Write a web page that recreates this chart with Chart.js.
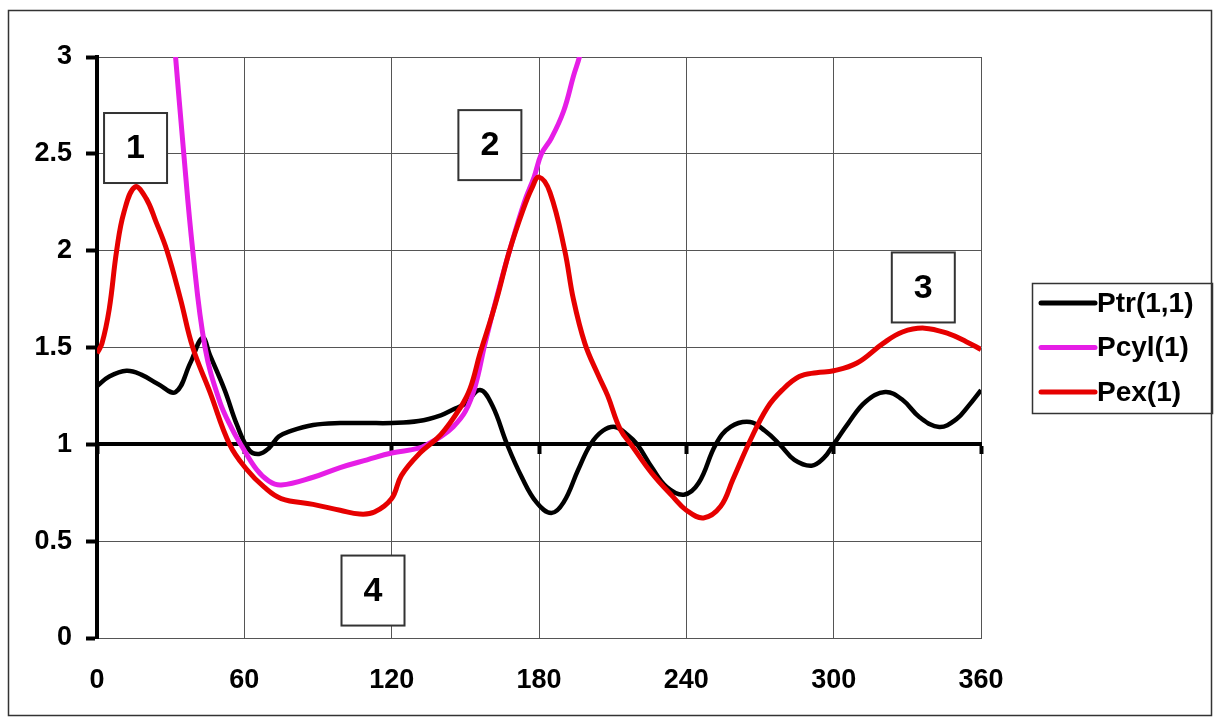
<!DOCTYPE html>
<html>
<head>
<meta charset="utf-8">
<script src="https://cdn.jsdelivr.net/npm/chart.js@4/dist/chart.umd.min.js"></script>
<style>
  html, body { margin: 0; padding: 0; background: #fff; }
  #wrap { width: 1214px; height: 723px; }
</style>
</head>
<body>
<div id="wrap"><canvas id="myChart" width="1214" height="723"></canvas></div>
<script>
// crank angle (deg) / value pairs
let ptrAngle = [0, 5, 12, 18, 25, 32, 38, 43, 46, 52, 57, 62, 66, 70, 74, 79, 88, 99, 110, 120, 131, 140, 145, 150, 156, 161, 167, 173, 179, 185, 190, 196, 201, 206, 211, 216, 220, 226, 232, 239, 245, 252, 258, 266, 272, 278, 284, 291, 296, 300, 306, 313, 321, 328, 335, 343, 350, 355, 360]
let ptrValue = [1.30, 1.35, 1.38, 1.36, 1.31, 1.27, 1.42, 1.55, 1.46, 1.28, 1.10, 0.97, 0.95, 0.98, 1.04, 1.07, 1.10, 1.11, 1.11, 1.11, 1.12, 1.15, 1.18, 1.21, 1.28, 1.20, 1.00, 0.83, 0.70, 0.645, 0.70, 0.87, 1.00, 1.07, 1.09, 1.05, 1.00, 0.88, 0.78, 0.74, 0.80, 1.00, 1.09, 1.115, 1.07, 1.00, 0.92, 0.89, 0.93, 1.00, 1.11, 1.22, 1.27, 1.23, 1.14, 1.09, 1.13, 1.20, 1.28]

let pcylAngle = [25, 29, 32, 35, 39, 44, 50, 55, 59, 65, 70, 75, 88, 99, 110, 120, 131, 136, 140, 145, 150, 154, 158, 163, 168, 174, 178, 181, 185, 190, 194, 197, 200]
let pcylValue = [4.2, 3.45, 3.0, 2.55, 2.0, 1.5, 1.22, 1.08, 0.99, 0.87, 0.81, 0.79, 0.83, 0.88, 0.92, 0.955, 0.98, 1.01, 1.04, 1.09, 1.17, 1.30, 1.52, 1.77, 2.0, 2.25, 2.38, 2.5, 2.58, 2.72, 2.9, 3.03, 3.3]

let pexAngle = [0, 2, 5, 8, 11, 15.5, 20, 24, 28.5, 34, 39, 46, 54, 61, 68, 75, 88, 99, 107, 113, 120, 124, 131.5, 140, 148, 152, 156, 160, 163, 168, 173.5, 177, 180, 184.5, 190.5, 194, 198.7, 204, 208, 213, 218, 226, 234.5, 240, 247, 254, 259, 266, 273, 279, 286, 293, 300, 309.5, 320, 328, 337, 347, 354, 360]
let pexValue = [1.47, 1.52, 1.70, 2.0, 2.2, 2.33, 2.27, 2.15, 2.0, 1.75, 1.5, 1.27, 1.0, 0.87, 0.78, 0.72, 0.69, 0.66, 0.64, 0.65, 0.72, 0.84, 0.955, 1.05, 1.19, 1.29, 1.47, 1.63, 1.76, 2.0, 2.21, 2.32, 2.38, 2.3, 2.0, 1.75, 1.52, 1.36, 1.25, 1.08, 0.99, 0.85, 0.73, 0.66, 0.62, 0.68, 0.82, 1.02, 1.19, 1.28, 1.35, 1.37, 1.38, 1.42, 1.52, 1.58, 1.60, 1.57, 1.53, 1.49]

let seriesNames = ['Ptr(1,1)', 'Pcyl(1)', 'Pex(1)']
let seriesColors = ['#000000', '#e61ee6', '#e60000']

// numbered boxes, placed in data coordinates
let markLabels = ['1', '2', '3', '4']
let markAngle = [15.7, 160, 336.5, 112.4]
let markValue = [2.53, 2.545, 1.81, 0.245]

let toPoints = (xs, ys) => xs.map((x, i) => ({ x: x, y: ys[i] }))
let tickFont = { family: '"Liberation Sans", Arial, sans-serif', size: 27, weight: 'bold' }

let extras = {
    id: 'extras',
    afterDraw(chart) {
        let c = chart.ctx
        let xs = chart.scales.x, ys = chart.scales.y
        c.save()
        // outer frame
        c.strokeStyle = '#333'
        c.lineWidth = 1.5
        c.strokeRect(8.5, 10.5, 1203, 705)

        // number boxes
        c.font = 'bold 34px "Liberation Sans", Arial, sans-serif'
        c.textAlign = 'center'
        c.textBaseline = 'middle'
        markLabels.forEach((t, i) => {
            let px = xs.getPixelForValue(markAngle[i])
            let py = ys.getPixelForValue(markValue[i])
            c.fillStyle = '#fff'
            c.fillRect(px - 31.5, py - 35, 63, 70)
            c.strokeStyle = '#333'
            c.lineWidth = 2
            c.strokeRect(px - 31.5, py - 35, 63, 70)
            c.fillStyle = '#000'
            c.fillText(t, px, py + 1)
        })

        // legend
        c.strokeStyle = '#333'
        c.lineWidth = 1.5
        c.strokeRect(1032.5, 283.5, 180, 130)
        c.textAlign = 'left'
        c.font = 'bold 28px "Liberation Sans", Arial, sans-serif'
        seriesNames.forEach((n, i) => {
            let y = 303 + i * 44.5
            c.strokeStyle = seriesColors[i]
            c.lineWidth = 5
            c.lineCap = 'round'
            c.beginPath()
            c.moveTo(1041, y)
            c.lineTo(1095, y)
            c.stroke()
            c.fillStyle = '#000'
            c.fillText(n, 1097, y + 1)
        })
        c.restore()
    }
}

let ctx = document.getElementById('myChart').getContext('2d')

let myChart = new Chart(ctx, {
    type: 'line',
    data: {
        datasets: [{
            label: seriesNames[0],
            data: toPoints(ptrAngle, ptrValue),
            borderColor: seriesColors[0],
            borderWidth: 4.5,
            order: 3
        }, {
            label: seriesNames[1],
            data: toPoints(pcylAngle, pcylValue),
            borderColor: seriesColors[1],
            borderWidth: 5,
            order: 2
        }, {
            label: seriesNames[2],
            data: toPoints(pexAngle, pexValue),
            borderColor: seriesColors[2],
            borderWidth: 5,
            order: 1
        }]
    },
    options: {
        responsive: false,
        animation: false,
        layout: {
            padding: { top: 57, right: 233, left: 0, bottom: 0 }
        },
        elements: {
            point: { radius: 0 },
            line: { tension: 0.4, fill: false }
        },
        plugins: {
            legend: { display: false },
            tooltip: { enabled: false }
        },
        scales: {
            x: {
                type: 'linear',
                min: 0,
                max: 360,
                ticks: { stepSize: 60, color: '#000', font: tickFont, padding: 26 },
                grid: { color: '#555', lineWidth: 1, drawTicks: false },
                border: { color: '#555', width: 1 },
                afterFit: (s) => { s.height = 85 }
            },
            x2: {
                axis: 'x',
                type: 'linear',
                min: 0,
                max: 360,
                position: { y: 1 },
                ticks: { stepSize: 60, display: false },
                grid: { drawOnChartArea: false, tickLength: 8, tickColor: '#000', tickWidth: 4 },
                border: { color: '#000', width: 4 }
            },
            y: {
                min: 0,
                max: 3,
                ticks: {
                    stepSize: 0.5,
                    color: '#000',
                    font: tickFont,
                    padding: 14,
                    callback: (v) => String(v)
                },
                grid: { color: '#555', lineWidth: 1, tickLength: 11, tickColor: '#000', tickWidth: 4 },
                border: { color: '#000', width: 4 },
                afterFit: (s) => { s.width = 97 }
            }
        }
    },
    plugins: [extras]
})
</script>
</body>
</html>
